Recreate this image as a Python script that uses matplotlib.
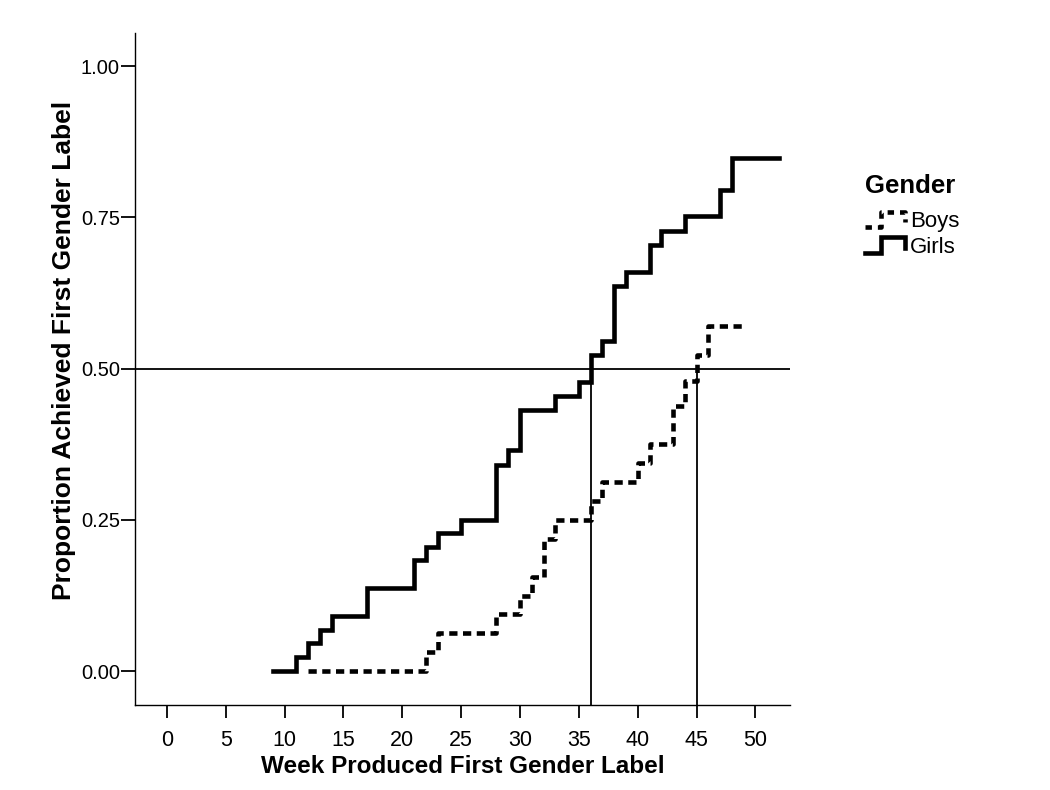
import matplotlib
matplotlib.use("Agg")
import matplotlib.pyplot as plt
from matplotlib.legend_handler import HandlerLine2D
from matplotlib.lines import Line2D

plt.rcParams["font.family"] = ["Liberation Sans", "DejaVu Sans"]

# step curves (week, cumulative proportion)
girls_weeks = [9, 11, 12, 13, 14, 17, 21, 22, 23, 25, 28, 29, 30, 33, 35, 36, 37, 38, 39, 41, 42, 44, 47, 48, 52]
girls_prop = [0.0, 0.023, 0.046, 0.068, 0.091, 0.137, 0.183, 0.205, 0.228, 0.25, 0.341, 0.365, 0.432, 0.455,
              0.478, 0.523, 0.546, 0.637, 0.66, 0.705, 0.728, 0.752, 0.796, 0.848, 0.848]

boys_weeks = [12, 22, 23, 28, 30, 31, 32, 33, 36, 37, 40, 41, 43, 44, 45, 46, 49]
boys_prop = [0.0, 0.031, 0.063, 0.094, 0.125, 0.156, 0.219, 0.25, 0.281, 0.313, 0.344, 0.375, 0.438,
             0.48, 0.522, 0.57, 0.57]

median_level = 0.5
median_weeks = [36, 45]

xticks = list(range(0, 51, 5))
yticks = [0.0, 0.25, 0.5, 0.75, 1.0]


class StepHandler(HandlerLine2D):
    def create_artists(self, legend, orig_handle, xdescent, ydescent, width, height, fontsize, trans):
        x0, y0 = -xdescent, -ydescent
        xs = [x0, x0 + 0.4 * width, x0 + 0.4 * width, x0 + width, x0 + width]
        ys = [y0 + 0.05 * height, y0 + 0.05 * height, y0 + 0.95 * height, y0 + 0.95 * height, y0 + 0.35 * height]
        ln = Line2D(xs, ys, color=orig_handle.get_color(), lw=orig_handle.get_linewidth(),
                    linestyle=orig_handle.get_linestyle(), solid_joinstyle="miter")
        if orig_handle.get_linestyle() != "-":
            ln.set_dashes((1.4, 1.3))
        ln.set_transform(trans)
        return [ln]


fig = plt.figure(figsize=(10.5, 7.9), dpi=100)
ax = fig.add_axes([0.1286, 0.1076, 0.6234, 0.8506])

g_line, = ax.step(girls_weeks, girls_prop, where="post", color="black", lw=3.3,
                  solid_joinstyle="miter", label="Girls")
b_line, = ax.step(boys_weeks, boys_prop, where="post", color="black", lw=3.3,
                  linestyle=(0, (1.8, 1.2)), dash_capstyle="butt", label="Boys")

ax.axhline(median_level, color="black", lw=1.3)
for w in median_weeks:
    ax.plot([w, w], [-0.06, median_level], color="black", lw=1.3)

ax.set_xlim(-2.7, 52.9)
ax.set_ylim(-0.056, 1.055)
ax.set_xticks(xticks)
ax.set_yticks(yticks)
ax.set_yticklabels([f"{v:.2f}" for v in yticks])

for s in ["top", "right"]:
    ax.spines[s].set_visible(False)
for s in ["left", "bottom"]:
    ax.spines[s].set_linewidth(1.0)
ax.tick_params(axis="both", direction="out", width=1.3)
ax.tick_params(axis="x", length=9, pad=9, labelsize=15.5)
ax.tick_params(axis="y", length=10, pad=1, labelsize=14.5)

ax.set_xlabel("Week Produced First Gender Label", fontsize=17.5, fontweight="bold", labelpad=3)
ax.set_ylabel("Proportion Achieved First Gender Label", fontsize=19, fontweight="bold")
ax.yaxis.set_label_coords(-0.09, 0.527)

fig.text(0.824, 0.7646, "Gender", fontsize=18.5, fontweight="bold", ha="left", va="center")
leg = fig.legend(handles=[b_line, g_line], labels=["Boys", "Girls"],
                 loc="upper left", bbox_to_anchor=(0.824, 0.733), frameon=False,
                 handler_map={Line2D: StepHandler()}, fontsize=16,
                 handlelength=1.8, handleheight=0.8, handletextpad=0.2, labelspacing=0.2,
                 borderpad=0, borderaxespad=0)

fig.savefig("out.png", dpi=100)
